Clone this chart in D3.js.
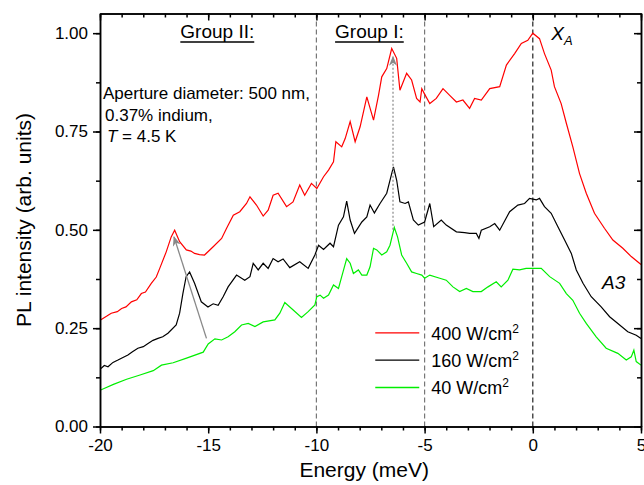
<!DOCTYPE html>
<html>
<head>
<meta charset="utf-8">
<script src="https://cdn.jsdelivr.net/npm/d3@7"></script>
<style>
  body { margin: 0; background: #fff; }
  svg { font-family: "Liberation Sans", Arial, sans-serif; }
  .axis path, .axis line { stroke: #000; stroke-width: 1.5; }
  .axis text { font-size: 17px; fill: #000; }
</style>
</head>
<body>
<div class="chart"></div>
<script>
// energy (meV) vs PL intensity
const red400 = [
  [-20.0,0.270],[-19.94,0.272],[-19.7,0.280],[-19.48,0.288],[-19.2,0.292],[-19.0,0.300],[-18.8,0.304],[-18.55,0.317],
  [-18.3,0.322],[-18.09,0.338],[-17.9,0.342],[-17.63,0.364],[-17.4,0.380],[-17.24,0.402],[-16.94,0.444],
  [-16.71,0.482],[-16.55,0.499],[-16.32,0.470],[-16.01,0.449],[-15.8,0.446],[-15.63,0.440],[-15.4,0.437],[-15.17,0.436],
  [-14.77,0.457],[-14.38,0.478],[-14.15,0.504],[-13.84,0.537],[-13.54,0.546],[-13.23,0.567],
  [-13.07,0.584],[-12.77,0.563],[-12.46,0.535],[-12.23,0.550],[-12.0,0.588],[-11.77,0.593],
  [-11.38,0.559],[-11.08,0.571],[-10.77,0.614],[-10.54,0.588],[-10.23,0.618],[-9.98,0.605],
  [-9.67,0.635],[-9.44,0.652],[-9.21,0.673],[-9.10,0.724],[-8.83,0.711],[-8.67,0.732],
  [-8.44,0.775],[-8.21,0.724],[-7.98,0.762],[-7.67,0.838],[-7.36,0.779],[-7.13,0.842],
  [-6.98,0.889],[-6.75,0.910],[-6.52,0.961],[-6.29,0.936],[-6.14,0.855],[-5.83,0.898],
  [-5.60,0.881],[-5.37,0.834],[-5.21,0.825],[-5.13,0.859],[-5.0,0.845],[-4.76,0.821],
  [-4.46,0.834],[-4.15,0.859],[-3.84,0.842],[-3.53,0.825],[-3.23,0.830],[-2.92,0.809],
  [-2.69,0.834],[-2.38,0.830],[-1.99,0.859],[-1.53,0.864],[-1.22,0.919],[-0.84,0.948],
  [-0.53,0.974],[-0.23,0.982],[0.0,1.000],[0.31,0.986],[0.54,0.948],[0.85,0.906],[1.0,0.864],
  [1.31,0.821],[1.55,0.771],[1.85,0.711],[2.16,0.643],[2.47,0.593],[2.85,0.542],[3.31,0.504],
  [3.70,0.474],[4.16,0.453],[4.55,0.432],[4.93,0.415],[5.0,0.412]
];
const black160 = [
  [-20.0,0.147],[-19.94,0.148],[-19.8,0.155],[-19.63,0.152],[-19.4,0.163],[-19.17,0.169],[-18.71,0.182],
  [-18.5,0.190],[-18.25,0.199],[-18.0,0.203],[-17.78,0.211],[-17.55,0.219],[-17.32,0.224],[-17.1,0.228],
  [-16.86,0.237],[-16.48,0.258],[-16.32,0.288],[-16.17,0.338],
  [-16.02,0.381],[-15.86,0.393],[-15.63,0.364],[-15.32,0.317],[-15.01,0.304],[-14.77,0.312],
  [-14.54,0.308],[-14.31,0.330],[-14.08,0.355],[-13.69,0.385],[-13.31,0.372],[-13.07,0.381],
  [-12.92,0.415],[-12.69,0.398],[-12.46,0.415],[-12.23,0.402],[-12.0,0.427],[-11.77,0.419],
  [-11.54,0.426],[-11.23,0.404],[-10.77,0.419],[-10.38,0.402],[-10.07,0.436],[-9.90,0.461],
  [-9.67,0.450],[-9.37,0.466],[-9.21,0.457],[-8.98,0.512],[-8.75,0.533],[-8.60,0.573],
  [-8.44,0.525],[-8.24,0.491],[-7.90,0.520],[-7.67,0.533],[-7.52,0.563],[-7.32,0.543],
  [-7.06,0.567],[-6.75,0.593],[-6.60,0.626],[-6.44,0.660],[-6.29,0.626],[-6.14,0.571],
  [-5.90,0.567],[-5.75,0.571],[-5.52,0.525],[-5.29,0.512],[-5.0,0.520],[-4.76,0.567],
  [-4.58,0.508],[-4.23,0.525],[-4.0,0.512],[-3.53,0.495],[-3.15,0.493],[-2.92,0.491],
  [-2.61,0.491],[-2.49,0.478],[-2.38,0.499],[-1.99,0.508],[-1.76,0.516],[-1.53,0.499],
  [-1.07,0.546],[-0.69,0.563],[-0.38,0.567],[-0.15,0.580],[0.16,0.576],[0.31,0.580],
  [0.54,0.559],[0.85,0.542],[1.16,0.508],[1.47,0.474],[1.78,0.440],[2.01,0.398],[2.32,0.364],
  [2.70,0.330],[3.16,0.304],[3.55,0.279],[3.93,0.262],[4.39,0.241],[4.78,0.232],[5.0,0.224]
];
const green40 = [
  [-20.0,0.092],[-19.38,0.107],[-18.77,0.120],[-18.15,0.131],[-17.54,0.142],[-17.16,0.156],
  [-16.62,0.162],[-16.0,0.174],[-15.23,0.189],[-15.0,0.210],[-14.69,0.223],[-14.38,0.220],
  [-14.08,0.228],[-13.77,0.241],[-13.46,0.258],[-13.15,0.262],[-12.84,0.254],[-12.46,0.266],
  [-11.92,0.271],[-11.69,0.288],[-11.46,0.315],[-11.15,0.300],[-10.69,0.277],[-10.38,0.292],
  [-10.07,0.309],[-9.98,0.330],[-9.83,0.334],[-9.67,0.326],[-9.44,0.334],[-9.21,0.360],
  [-8.98,0.351],[-8.83,0.381],[-8.60,0.427],[-8.44,0.415],[-8.29,0.389],[-8.06,0.398],
  [-7.90,0.385],[-7.67,0.385],[-7.52,0.406],[-7.36,0.453],[-7.21,0.449],[-6.98,0.436],
  [-6.75,0.444],[-6.60,0.461],[-6.40,0.506],[-6.25,0.482],[-6.06,0.436],[-5.83,0.415],
  [-5.60,0.393],[-5.37,0.389],[-5.13,0.385],[-5.0,0.377],[-4.76,0.385],[-4.30,0.377],
  [-4.0,0.372],[-3.69,0.355],[-3.38,0.343],[-3.07,0.351],[-2.77,0.343],[-2.38,0.343],
  [-2.07,0.355],[-1.69,0.368],[-1.46,0.355],[-1.15,0.372],[-0.92,0.400],[-0.61,0.398],
  [-0.31,0.402],[0.0,0.402],[0.39,0.402],[0.78,0.381],[1.24,0.364],[1.55,0.338],[1.85,0.321],
  [2.16,0.288],[2.47,0.262],[2.93,0.228],[3.39,0.199],[3.93,0.186],[4.32,0.169],[4.55,0.177],
  [4.67,0.194],[4.78,0.165],[5.0,0.156]
];

const seriesNames = ["400", "160", "40"];
const seriesColors = ["#ff0000", "#000000", "#00ee00"];
const xTicks = [-20, -15, -10, -5, 0, 5];
const yTicks = [0, 0.25, 0.5, 0.75, 1.0];
const dashedLines = [-10, -5, 0];

const margin = ({top: 13.5, right: 3, bottom: 58.5, left: 100});
const W = 644, H = 485;
const width = W - margin.left - margin.right,
  height = H - margin.top - margin.bottom;

const svg = d3.select(".chart").append("svg").attr("width", W).attr("height", H)
  .append("g").attr("transform", `translate(${margin.left},${margin.top})`);

let xScale = d3.scaleLinear().domain([-20, 5]).range([0, width]);
let yScale = d3.scaleLinear().domain([0, 1.05]).range([height, 0]);

svg.append("clipPath").attr("id", "clip").append("rect").attr("width", width).attr("height", height);

// vertical dashed markers
svg.selectAll(".vline").data(dashedLines).enter().append("line")
  .attr("x1", d => xScale(d)).attr("x2", d => xScale(d))
  .attr("y1", 0).attr("y2", height)
  .attr("stroke", d => d === 0 ? "#222" : "#777")
  .attr("stroke-width", 1.2)
  .attr("stroke-dasharray", "5,3");

const line = d3.line().x(d => xScale(d[0])).y(d => yScale(d[1]));
const allSeries = [red400, black160, green40];

svg.selectAll(".curve").data(allSeries).enter().append("path")
  .attr("class", "curve")
  .attr("clip-path", "url(#clip)")
  .attr("d", line)
  .attr("fill", "none")
  .attr("stroke", (d, i) => seriesColors[i])
  .attr("stroke-width", 1.2);

// arrows
const defs = svg.append("defs");
defs.append("marker").attr("id", "head").attr("viewBox", "0 0 10 10")
  .attr("refX", 9).attr("refY", 5).attr("markerWidth", 10).attr("markerHeight", 10)
  .attr("markerUnits", "userSpaceOnUse").attr("orient", "auto")
  .append("path").attr("d", "M0,1 L10,5 L0,9 L3,5 Z").attr("fill", "#888");
defs.append("marker").attr("id", "head2").attr("viewBox", "0 0 10 10")
  .attr("refX", 9).attr("refY", 5).attr("markerWidth", 14).attr("markerHeight", 10)
  .attr("markerUnits", "userSpaceOnUse").attr("orient", "auto")
  .append("path").attr("d", "M0,1 L10,5 L0,9 L3,5 Z").attr("fill", "#888");

svg.append("line")
  .attr("x1", xScale(-15.08)).attr("y1", yScale(0.224))
  .attr("x2", xScale(-16.58)).attr("y2", yScale(0.482))
  .attr("stroke", "#888").attr("stroke-width", 1.3)
  .attr("marker-end", "url(#head)");

svg.append("line")
  .attr("x1", xScale(-6.46)).attr("y1", yScale(0.5))
  .attr("x2", xScale(-6.46)).attr("y2", yScale(0.94))
  .attr("stroke", "#888").attr("stroke-width", 1.2)
  .attr("stroke-dasharray", "2,2")
  .attr("marker-end", "url(#head2)");

// axes
const xMinor = d3.range(-20, 5.01, 1);
const yMinor = d3.range(0, 1.051, 0.125);

svg.append("g").attr("class", "axis").attr("transform", `translate(0,${height})`)
  .call(d3.axisBottom(xScale).tickValues(xMinor).tickSize(4).tickFormat("").tickSizeOuter(0));
svg.append("g").attr("class", "axis x-axis").attr("transform", `translate(0,${height})`)
  .call(d3.axisBottom(xScale).tickValues(xTicks).tickSize(7).tickPadding(5).tickFormat(d => String(d)).tickSizeOuter(0));
svg.append("g").attr("class", "axis")
  .call(d3.axisTop(xScale).tickValues(xMinor).tickSize(-4).tickFormat("").tickSizeOuter(0));
svg.append("g").attr("class", "axis")
  .call(d3.axisTop(xScale).tickValues(xTicks).tickSize(-7).tickFormat("").tickSizeOuter(0));

svg.append("g").attr("class", "axis")
  .call(d3.axisLeft(yScale).tickValues(yMinor).tickSize(4).tickFormat("").tickSizeOuter(0));
svg.append("g").attr("class", "axis y-axis")
  .call(d3.axisLeft(yScale).tickValues(yTicks).tickSize(7).tickPadding(5).tickFormat(d3.format(".2f")).tickSizeOuter(0));
svg.append("g").attr("class", "axis").attr("transform", `translate(${width},0)`)
  .call(d3.axisRight(yScale).tickValues(yMinor).tickSize(-4).tickFormat("").tickSizeOuter(0));
svg.append("g").attr("class", "axis").attr("transform", `translate(${width},0)`)
  .call(d3.axisRight(yScale).tickValues(yTicks).tickSize(-7).tickFormat("").tickSizeOuter(0));

// axis titles
svg.append("text").attr("x", xScale(-7.79)).attr("y", height + 50)
  .attr("text-anchor", "middle").attr("font-size", 21).text("Energy (meV)");
svg.append("text").attr("transform", `translate(${-69},${yScale(0.525)}) rotate(-90)`)
  .attr("text-anchor", "middle").attr("font-size", 21).text("PL intensity (arb. units)");

// group labels
const groups = [["Group II:", -14.58], ["Group I:", -7.55]];
groups.forEach(g => {
  const t = svg.append("text").attr("x", xScale(g[1])).attr("y", 24.5)
    .attr("text-anchor", "middle").attr("font-size", 19).text(g[0]);
  const w = t.node().getComputedTextLength();
  svg.append("line").attr("x1", xScale(g[1]) - w / 2).attr("x2", xScale(g[1]) + w / 2)
    .attr("y1", 28.5).attr("y2", 28.5).attr("stroke", "#000").attr("stroke-width", 1.5);
});

const xa = svg.append("text").attr("x", xScale(0.85)).attr("y", 26)
  .attr("font-size", 19).attr("font-style", "italic");
xa.append("tspan").text("X");
xa.append("tspan").attr("font-size", 13).attr("dy", 5).text("A");

svg.append("text").attr("x", xScale(3.2)).attr("y", 275)
  .attr("font-size", 19).attr("font-style", "italic").text("A3");

// sample notes
const notes = svg.append("text").attr("font-size", 17);
notes.append("tspan").attr("x", 3).attr("y", 85).text("Aperture diameter: 500 nm,");
notes.append("tspan").attr("x", 5).attr("y", 107).text("0.37% indium,");
const t3 = notes.append("tspan").attr("x", 7).attr("y", 128);
t3.append("tspan").attr("font-style", "italic").text("T");
t3.append("tspan").text(" = 4.5 K");

// legend
const legend = svg.append("g").attr("transform", `translate(${xScale(-7.28)},${yScale(0.238)})`);
seriesNames.forEach((name, i) => {
  const row = legend.append("g").attr("transform", `translate(0,${i * 27.3})`);
  row.append("line").attr("x1", 0).attr("x2", 44).attr("y1", 0).attr("y2", 0)
    .attr("stroke", seriesColors[i]).attr("stroke-width", 1.3);
  const t = row.append("text").attr("x", 56).attr("y", 7).attr("font-size", 18);
  t.append("tspan").text(name + " W/cm");
  t.append("tspan").attr("font-size", 12).attr("dy", -7).text("2");
});
</script>
</body>
</html>
